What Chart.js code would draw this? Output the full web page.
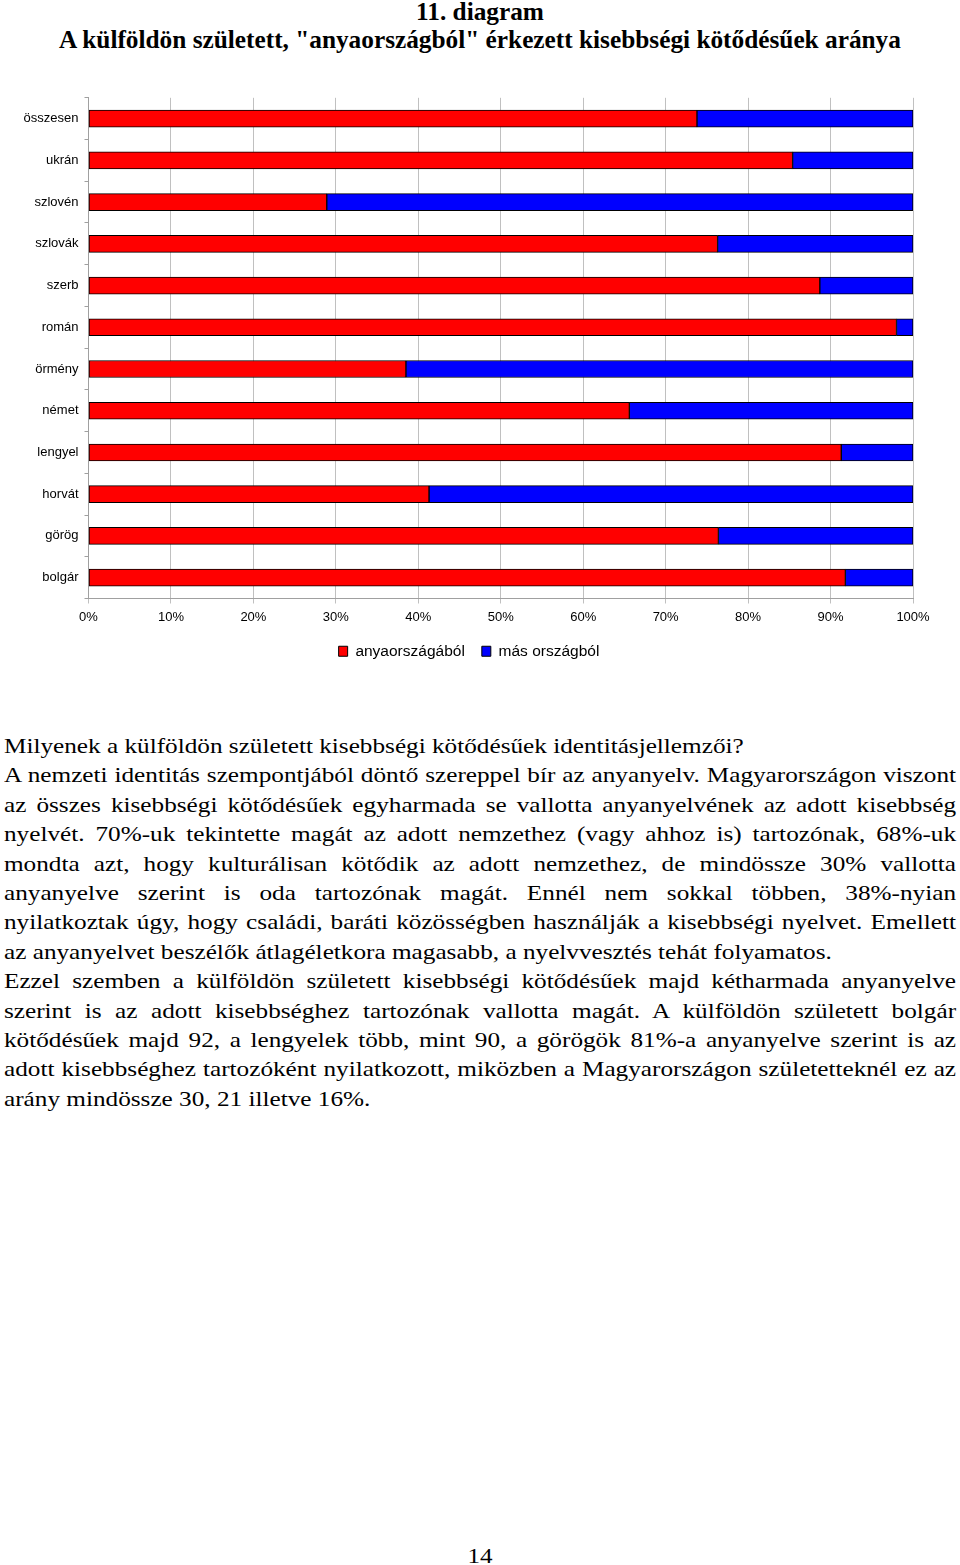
<!DOCTYPE html>
<html lang="hu">
<head>
<meta charset="utf-8">
<script src="https://cdn.jsdelivr.net/npm/chart.js@4.4.1/dist/chart.umd.min.js"></script>
<style>
  html, body { margin: 0; padding: 0; background: #fff; }
  body { width: 960px; height: 1565px; position: relative; overflow: hidden; }
  .title { position: absolute; left: 0; width: 960px; text-align: center;
           font-family: "Liberation Serif", "Times New Roman", serif; font-weight: bold;
           font-size: 25.3px; color: #000; white-space: nowrap; }
  #chartWrap { position: absolute; left: 0; top: 84px; width: 960px; height: 600px; }
  #text { position: absolute; left: 4px; top: 731px; width: 830.4px;
          transform: scaleX(1.1465); transform-origin: 0 0;
          font-family: "Liberation Serif", "Times New Roman", serif; font-size: 22px;
          line-height: 29.4px; color: #000; }
  #text div { white-space: nowrap; }
  #text div.j { text-align: justify; text-align-last: justify; white-space: normal; }
  #page { position: absolute; left: 0; width: 960px; top: 1543px; text-align: center;
          font-family: "Liberation Serif", "Times New Roman", serif; font-size: 22px;
          transform: scaleX(1.14); transform-origin: 480px 0; }
</style>
</head>
<body>
<div class="title" style="top:-3px;">11. diagram</div>
<div class="title" style="top:25px;">A külföldön született, "anyaországból" érkezett kisebbségi kötődésűek aránya</div>

<div id="chartWrap"><canvas id="c" width="960" height="600"></canvas></div>

<div id="text">
  <div>Milyenek a külföldön született kisebbségi kötődésűek identitásjellemzői?</div>
  <div class="j">A nemzeti identitás szempontjából döntő szereppel bír az anyanyelv. Magyarországon viszont</div>
  <div class="j">az összes kisebbségi kötődésűek egyharmada se vallotta anyanyelvének az adott kisebbség</div>
  <div class="j">nyelvét. 70%-uk tekintette magát az adott nemzethez (vagy ahhoz is) tartozónak, 68%-uk</div>
  <div class="j">mondta azt, hogy kulturálisan kötődik az adott nemzethez, de mindössze 30% vallotta</div>
  <div class="j">anyanyelve szerint is oda tartozónak magát. Ennél nem sokkal többen, 38%-nyian</div>
  <div class="j">nyilatkoztak úgy, hogy családi, baráti közösségben használják a kisebbségi nyelvet. Emellett</div>
  <div>az anyanyelvet beszélők átlagéletkora magasabb, a nyelvvesztés tehát folyamatos.</div>
  <div class="j">Ezzel szemben a külföldön született kisebbségi kötődésűek majd kétharmada anyanyelve</div>
  <div class="j">szerint is az adott kisebbséghez tartozónak vallotta magát. A külföldön született bolgár</div>
  <div class="j">kötődésűek majd 92, a lengyelek több, mint 90, a görögök 81%-a anyanyelve szerint is az</div>
  <div class="j">adott kisebbséghez tartozóként nyilatkozott, miközben a Magyarországon születetteknél ez az</div>
  <div>arány mindössze 30, 21 illetve 16%.</div>
</div>

<div id="page">14</div>

<script>
const categories = ["összesen", "ukrán", "szlovén", "szlovák", "szerb", "román", "örmény", "német", "lengyel", "horvát", "görög", "bolgár"];
const anyaorszagbol = [73.8, 85.4, 28.9, 76.3, 88.7, 98.0, 38.5, 65.6, 91.3, 41.3, 76.4, 91.8];
const masOrszagbol = [26.2, 14.6, 71.1, 23.7, 11.3, 2.0, 61.5, 34.4, 8.7, 58.7, 23.6, 8.2];
const seriesNames = ["anyaországából", "más országból"];
const xTicks = [0, 10, 20, 30, 40, 50, 60, 70, 80, 90, 100];

const gridGray = "#c0c0c0";

const shiftLegend = {
  id: "shiftLegend",
  afterLayout(chart) {
    if (chart.legend) { chart.legend.left += 12.5; chart.legend.right += 12.5; }
  }
};

new Chart(document.getElementById("c"), {
  type: "bar",
  data: {
    labels: categories,
    datasets: [
      { label: seriesNames[0], data: anyaorszagbol, backgroundColor: "#ff0000",
        borderColor: "#000000", borderWidth: 1, borderSkipped: false, barThickness: 17 },
      { label: seriesNames[1], data: masOrszagbol, backgroundColor: "#0000ff",
        borderColor: "#000000", borderWidth: 1, borderSkipped: false, barThickness: 17 }
    ]
  },
  plugins: [shiftLegend],
  options: {
    indexAxis: "y",
    responsive: false,
    animation: false,
    devicePixelRatio: 1,
    layout: { padding: { top: 0, left: 0, right: 47, bottom: 15 } },
    plugins: {
      tooltip: { enabled: false },
      legend: {
        position: "bottom",
        labels: {
          boxWidth: 9, boxHeight: 10, padding: 17, color: "#000",
          font: { family: "'Liberation Sans', Arial, sans-serif", size: 15.5 },
          generateLabels(chart) {
            return chart.data.datasets.map((ds, i) => ({
              text: ds.label, fillStyle: ds.backgroundColor, strokeStyle: "#000",
              lineWidth: 1, datasetIndex: i, fontColor: "#000"
            }));
          }
        }
      }
    },
    scales: {
      x: {
        stacked: true, min: 0, max: 100,
        afterBuildTicks(scale) { scale.ticks = xTicks.map(v => ({ value: v })); },
        afterFit(scale) { scale.height = 28; },
        grid: { color: gridGray, lineWidth: 1, tickLength: 5, tickColor: gridGray },
        border: { color: "#a0a0a0", width: 1 },
        ticks: { color: "#000", padding: 6, maxRotation: 0, autoSkip: false,
                 font: { family: "'Liberation Sans', Arial, sans-serif", size: 13 },
                 callback: v => v + "%" }
      },
      y: {
        stacked: true,
        afterFit(scale) { scale.width = 88.5; },
        grid: { drawOnChartArea: false, tickLength: 4, tickColor: "#a0a0a0", offset: true },
        border: { color: "#a0a0a0", width: 1 },
        ticks: { color: "#000", padding: 6, autoSkip: false,
                 font: { family: "'Liberation Sans', Arial, sans-serif", size: 13 } }
      }
    }
  }
});
</script>
</body>
</html>
